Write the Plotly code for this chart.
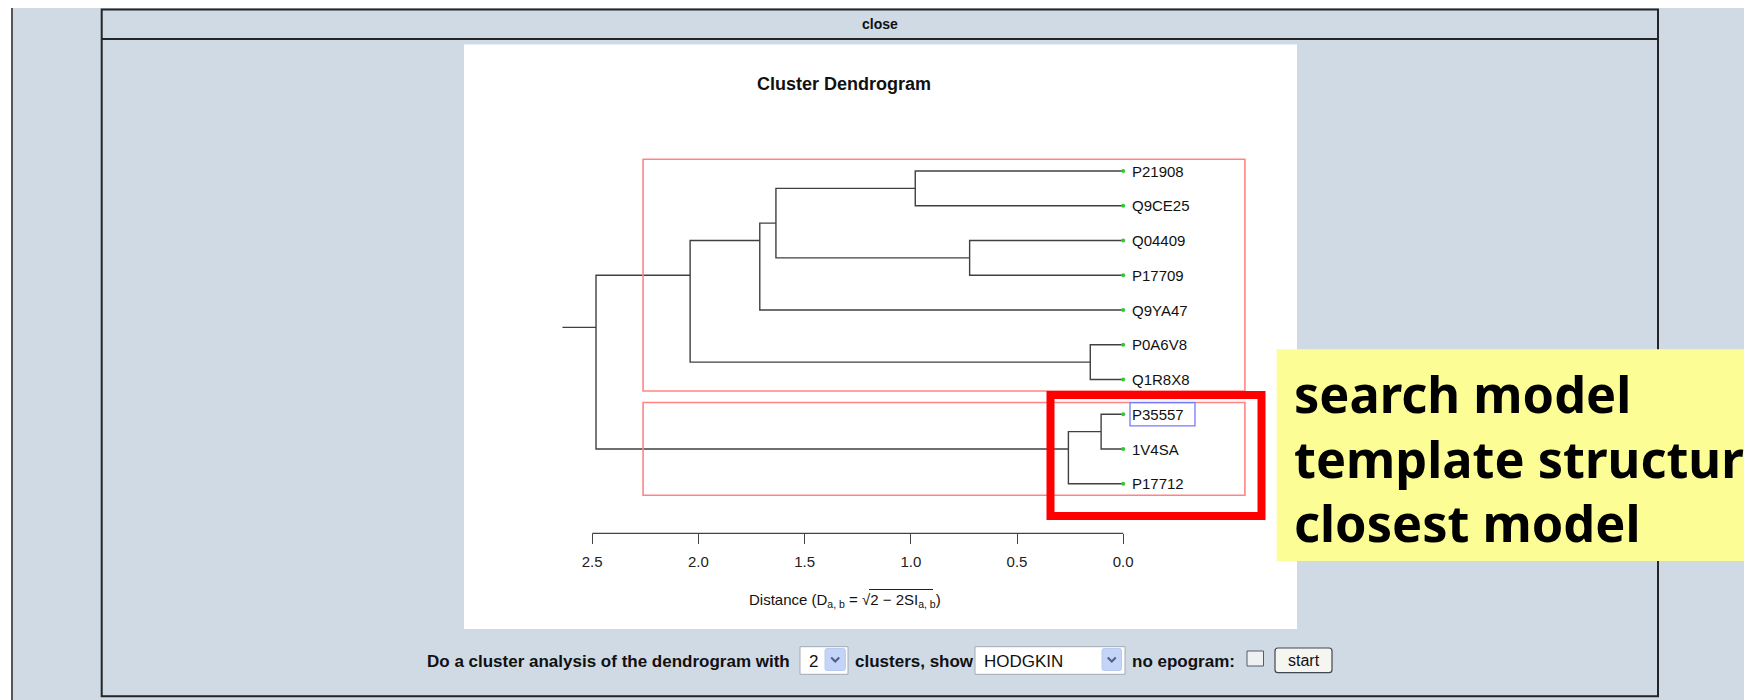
import plotly.graph_objects as go

W, H = 1752, 700
OFF = 8  # the page body margin that the browser adds round the figure

# ---------------- data ----------------
leaf_labels = ["P21908", "Q9CE25", "Q04409", "P17709", "Q9YA47",
               "P0A6V8", "Q1R8X8", "P35557", "1V4SA", "P17712"]
merge_names = ["D", "E", "C", "B", "F", "A", "G", "H", "root"]
merge_left = ["P21908", "Q04409", "D", "C", "P0A6V8", "B", "P35557", "G", "A"]
merge_right = ["Q9CE25", "P17709", "E", "Q9YA47", "Q1R8X8", "F", "1V4SA", "P17712", "H"]
merge_height = [0.979, 0.723, 1.635, 1.711, 0.155, 2.039, 0.104, 0.258, 2.482]
root_stub_height = 2.640
n_clusters = 2
tick_values = [2.5, 2.0, 1.5, 1.0, 0.5, 0.0]
tick_labels = ["2.5", "2.0", "1.5", "1.0", "0.5", "0.0"]
highlight_leaf = "P35557"
plot_usr_min = -0.573
chart_title = "Cluster Dendrogram"
note_lines = ["search model", "template structure", "closest model"]

# ---------------- layout helpers (window pixels -> paper) ----------------
def px(x):
    return (x - OFF) / W


def py(y):
    return 1 - (y - OFF) / H


X0, SX = 1123.2 - OFF, 212.4      # pixel of distance 0, pixels per distance unit
Y0, SY = 171.0 - OFF, 34.75       # pixel of leaf 0, pixels per leaf
x_range = [X0 / SX, (X0 - W) / SX]
y_range = [(H - Y0) / SY, -Y0 / SY]

BG = "#cfdae5"
FONT = "Liberation Sans, Arial, sans-serif"

# ---------------- dendrogram geometry ----------------
pos = {lab: float(i) for i, lab in enumerate(leaf_labels)}
ext = {lab: (i, i) for i, lab in enumerate(leaf_labels)}
hgt = {lab: 0.0 for lab in leaf_labels}
xs, ys = [], []
for name, l, r, h in zip(merge_names, merge_left, merge_right, merge_height):
    lo = min(ext[l][0], ext[r][0])
    hi = max(ext[l][1], ext[r][1])
    ext[name] = (lo, hi)
    pos[name] = (lo + hi) / 2.0
    hgt[name] = h
    xs += [hgt[l], h, h, hgt[r], None]
    ys += [pos[l], pos[l], pos[r], pos[r], None]
root = merge_names[-1]
xs += [hgt[root], root_stub_height, None]
ys += [pos[root], pos[root], None]

fig = go.Figure()
fig.add_trace(go.Scatter(x=xs, y=ys, mode="lines",
                         line=dict(color="#404040", width=1.4),
                         hoverinfo="skip", showlegend=False))
fig.add_trace(go.Scatter(x=[0.0] * len(leaf_labels), y=[pos[l] for l in leaf_labels],
                         mode="markers", marker=dict(color="#2ecc2e", size=4),
                         hoverinfo="skip", showlegend=False))

shapes = []
annotations = []

# white chart panel
shapes.append(dict(type="rect", xref="paper", yref="paper", layer="below",
                   x0=px(464), x1=px(1297), y0=py(629), y1=py(44.5),
                   fillcolor="#ffffff", line_width=0))
# outer frame lines
shapes.append(dict(type="rect", xref="paper", yref="paper", layer="below",
                   x0=px(0), x1=px(11), y0=py(710), y1=py(0), fillcolor="#ffffff", line_width=0))
shapes.append(dict(type="line", xref="paper", yref="paper", x0=px(12), x1=px(12),
                   y0=py(5), y1=py(710), line=dict(color="#555555", width=2)))
shapes.append(dict(type="line", xref="paper", yref="paper", x0=px(1750.5), x1=px(1750.5),
                   y0=py(5), y1=py(710), line=dict(color="#555555", width=2)))
# inner frame + header bar
shapes.append(dict(type="rect", xref="paper", yref="paper",
                   x0=px(101.7), x1=px(1658), y0=py(696.3), y1=py(9.5),
                   line=dict(color="#252525", width=2)))
shapes.append(dict(type="line", xref="paper", yref="paper", x0=px(101.7), x1=px(1658),
                   y0=py(39), y1=py(39), line=dict(color="#252525", width=2)))
annotations.append(dict(text="<b>close</b>", xref="paper", yref="paper", x=px(880), y=py(24),
                        xanchor="center", yanchor="middle", showarrow=False,
                        font=dict(family=FONT, size=14, color="#111111")))

# axis line (spanning the tick values)
axis_pos = py(533.3)
shapes.append(dict(type="line", xref="x", yref="paper", x0=min(tick_values), x1=max(tick_values),
                   y0=axis_pos, y1=axis_pos, line=dict(color="#444444", width=1.3)))

# cluster rectangles (rect.hclust style)
top_heights = sorted(merge_height, reverse=True)
cut = (top_heights[n_clusters - 2] + top_heights[n_clusters - 1]) / 2.0
for child in (merge_left[-1], merge_right[-1]):
    lo, hi = ext[child]
    shapes.append(dict(type="rect", xref="x", yref="y", x0=cut, x1=plot_usr_min,
                       y0=lo - 0.34, y1=hi + 0.33,
                       line=dict(color="#ff8585", width=1.6)))

# highlight box around search-model label
hp = pos[highlight_leaf]
shapes.append(dict(type="rect", xref="x", yref="y", x0=-0.032, x1=-0.338,
                   y0=hp - 0.335, y1=hp + 0.335, line=dict(color="#7878ff", width=1.3)))

# leaf labels
for lab in leaf_labels:
    annotations.append(dict(text=lab, xref="x", yref="y", x=0.0, y=pos[lab],
                            xanchor="left", yanchor="middle", xshift=7, showarrow=False,
                            font=dict(family=FONT, size=15, color="#111111")))

# title
annotations.append(dict(text="<b>" + chart_title + "</b>", xref="paper", yref="paper",
                        x=px(844), y=py(83.7), xanchor="center", yanchor="middle",
                        showarrow=False, font=dict(family=FONT, size=18, color="#111111")))

# axis title
annotations.append(dict(text="Distance (D<sub>a, b</sub> = √2 − 2SI<sub>a, b</sub>)",
                        xref="paper", yref="paper", x=px(747), y=py(600),
                        xanchor="left", yanchor="middle", showarrow=False,
                        font=dict(family=FONT, size=15, color="#111111")))
shapes.append(dict(type="line", xref="paper", yref="paper", x0=px(869), x1=px(933),
                   y0=py(589.5), y1=py(589.5), line=dict(color="#222222", width=1)))

# big red annotation box
shapes.append(dict(type="rect", xref="paper", yref="paper",
                   x0=px(1050.5), x1=px(1261.5), y0=py(516), y1=py(395),
                   line=dict(color="#ff0000", width=8)))
# yellow note
shapes.append(dict(type="rect", xref="paper", yref="paper",
                   x0=px(1276.7), x1=px(1770), y0=py(561), y1=py(349.3),
                   fillcolor="#fdfd96", line_width=0))
for line_text, yc in zip(note_lines, [394, 458, 522]):
    annotations.append(dict(text=line_text, xref="paper", yref="paper",
                            x=px(1292), y=py(yc), xanchor="left", yanchor="middle",
                            align="left", showarrow=False,
                            font=dict(family="Noto Sans, sans-serif", size=50.5,
                                      color="#000000", weight="bold")))

# ---------------- form row ----------------
def rounded(x0, y0, x1, y1, r):
    a, b = px, py
    return (f"M {a(x0 + r)},{b(y0)} L {a(x1 - r)},{b(y0)} Q {a(x1)},{b(y0)} {a(x1)},{b(y0 + r)} "
            f"L {a(x1)},{b(y1 - r)} Q {a(x1)},{b(y1)} {a(x1 - r)},{b(y1)} "
            f"L {a(x0 + r)},{b(y1)} Q {a(x0)},{b(y1)} {a(x0)},{b(y1 - r)} "
            f"L {a(x0)},{b(y0 + r)} Q {a(x0)},{b(y0)} {a(x0 + r)},{b(y0)} Z")


def chevron(cx, cy):
    return (f"M {px(cx - 4)},{py(cy - 2)} L {px(cx)},{py(cy + 2)} L {px(cx + 4)},{py(cy - 2)}")


form_font = dict(family=FONT, size=17, color="#111111")
for txt, x in [("<b>Do a cluster analysis of the dendrogram with</b>", 426),
               ("<b>clusters, show</b>", 854),
               ("<b>no epogram:</b>", 1131)]:
    annotations.append(dict(text=txt, xref="paper", yref="paper", x=px(x), y=py(661),
                            xanchor="left", yanchor="middle", showarrow=False, font=form_font,
                            xshift=-1))

for (x0, x1, ax0, ax1, label) in [(800, 848, 825, 845.4, "2"), (975, 1125, 1102, 1121.5, "HODGKIN")]:
    shapes.append(dict(type="rect", xref="paper", yref="paper", x0=px(x0), x1=px(x1),
                       y0=py(674.3), y1=py(646.7), fillcolor="#ffffff",
                       line=dict(color="#a2abb4", width=1)))
    shapes.append(dict(type="path", xref="paper", yref="paper",
                       path=rounded(ax0, 648.5, ax1, 670.5, 2),
                       fillcolor="#c3d4f7", line=dict(color="#b8cbf2", width=1)))
    shapes.append(dict(type="path", xref="paper", yref="paper",
                       path=chevron((ax0 + ax1) / 2, 659.5),
                       line=dict(color="#4b5f88", width=2)))
    annotations.append(dict(text=label, xref="paper", yref="paper", x=px(x0 + 7), y=py(661),
                            xanchor="left", yanchor="middle", showarrow=False,
                            font=dict(family=FONT, size=17, color="#111111")))

# checkbox
shapes.append(dict(type="rect", xref="paper", yref="paper", x0=px(1247), x1=px(1263.5),
                   y0=py(666), y1=py(651), fillcolor="#eef0f2",
                   line=dict(color="#4f5d6e", width=1)))
# start button
shapes.append(dict(type="path", xref="paper", yref="paper", path=rounded(1275, 648, 1332, 672.7, 3),
                   fillcolor="#f5f5f1", line=dict(color="#3f4852", width=1.2)))
annotations.append(dict(text="start", xref="paper", yref="paper", x=px(1303.5), y=py(660.5),
                        xanchor="center", yanchor="middle", showarrow=False,
                        font=dict(family=FONT, size=16, color="#111111")))

fig.update_layout(
    width=W, height=H,
    margin=dict(l=0, r=0, t=0, b=0),
    paper_bgcolor=BG, plot_bgcolor="rgba(0,0,0,0)",
    showlegend=False,
    xaxis=dict(range=x_range, domain=[0, 1], anchor="free", position=axis_pos,
               showgrid=False, zeroline=False, showline=False,
               tickmode="array", tickvals=tick_values, ticktext=tick_labels,
               ticks="outside", ticklen=10, tickwidth=1.3, tickcolor="#444444",
               ticklabelstandoff=5,
               tickfont=dict(family=FONT, size=15, color="#222222")),
    yaxis=dict(range=y_range, domain=[0, 1], visible=False),
    shapes=shapes,
    annotations=annotations,
)

fig.write_html("out.html")
